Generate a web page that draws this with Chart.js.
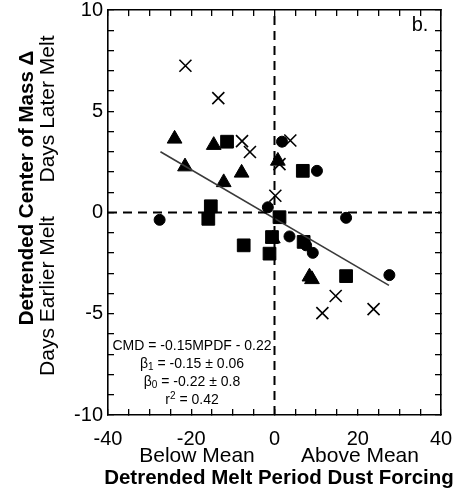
<!DOCTYPE html>
<html>
<head>
<meta charset="utf-8">
<script src="https://cdn.jsdelivr.net/npm/chart.js@4"></script>
<style>
  html, body { margin: 0; padding: 0; background: #fff; }
  canvas { display: block; }
</style>
</head>
<body>
<canvas id="dustChart" width="458" height="500"></canvas>
<script>
// values
const crossX = [-21.4, -13.5, -7.8, -5.9, 3.8, 1.2, 0.2, 14.7, 11.5, 23.8];
const crossY = [7.25, 5.65, 3.53, 2.99, 3.56, 2.39, 0.83, -4.12, -4.97, -4.77];
const triX = [-24.0, -14.6, -21.5, -7.9, -12.2, 0.8, -0.4, 8.4, 9.0];
const triY = [3.64, 3.33, 2.27, 1.96, 1.49, 2.55, -1.29, -3.17, -3.3];
const sqX = [-11.4, 6.8, -15.3, -15.9, 1.2, -7.4, -0.6, -1.2, 7.0, 17.2];
const sqY = [3.5, 2.06, 0.31, -0.31, -0.23, -1.62, -1.21, -2.03, -1.45, -3.14];
const circX = [1.8, 10.2, -1.6, -27.6, 17.2, 3.6, 7.6, 9.2, 27.6];
const circY = [3.5, 2.06, 0.26, -0.36, -0.26, -1.18, -1.62, -1.99, -3.09];
const fitX = [-27.4, 27.5];
const fitY = [3.0, -3.6];
const xTicks = [-40, -20, 0, 20, 40];
const yTicks = [-10, -5, 0, 5, 10];
const statLines = ['CMD = -0.15MPDF - 0.22', 'β|1| = -0.15 ± 0.06', 'β|0| = -0.22 ± 0.8', 'r^2^ = 0.42'];

// minor tick marks: every 5 on x, every 1 on y
const xMarks = [];
for (let v = -40; v <= 40; v += 5) xMarks.push(v);
const yMarks = [];
for (let v = -10; v <= 10; v += 1) yMarks.push(v);

const FONT = '"Liberation Sans", Arial, Helvetica, sans-serif';
const pts = (xs, ys) => xs.map((x, i) => ({ x, y: ys[i] }));

function markerSet(data, style, radius) {
  return {
    type: 'scatter',
    data,
    pointStyle: style,
    pointRadius: radius,
    pointBackgroundColor: '#000',
    pointBorderColor: '#000',
    pointBorderWidth: style === 'crossRot' ? 1.6 : 1,
    showLine: false
  };
}

function dashed(data) {
  return {
    type: 'line',
    data,
    borderColor: '#000',
    borderWidth: 2,
    borderDash: [9, 6],
    pointRadius: 0,
    fill: false
  };
}

// one line of text, |x| is subscript and ^x^ superscript
function richText(ctx, str, cx, cy, size) {
  const parts = [];
  const re = /(\|[^|]+\||\^[^^]+\^)/g;
  let last = 0, m;
  while ((m = re.exec(str)) !== null) {
    if (m.index > last) parts.push({ t: str.slice(last, m.index), k: 'n' });
    parts.push({ t: m[0].slice(1, -1), k: m[0][0] === '|' ? 'sub' : 'sup' });
    last = re.lastIndex;
  }
  if (last < str.length) parts.push({ t: str.slice(last), k: 'n' });
  const small = Math.round(size * 0.7);
  let total = 0;
  for (const p of parts) {
    ctx.font = (p.k === 'n' ? size : small) + 'px ' + FONT;
    p.w = ctx.measureText(p.t).width;
    total += p.w;
  }
  let x = cx - total / 2;
  ctx.textAlign = 'left';
  ctx.textBaseline = 'middle';
  for (const p of parts) {
    ctx.font = (p.k === 'n' ? size : small) + 'px ' + FONT;
    const dy = p.k === 'sub' ? size * 0.25 : p.k === 'sup' ? -size * 0.3 : 0;
    ctx.fillText(p.t, x, cy + dy);
    x += p.w;
  }
}

const decor = {
  id: 'decor',
  afterDraw(chart) {
    const ctx = chart.ctx;
    ctx.save();
    ctx.fillStyle = '#000';
    ctx.textAlign = 'center';
    ctx.textBaseline = 'middle';
    ctx.font = '20px ' + FONT;
    ctx.fillText('b.', 420, 25);

    // regression stats
    const sy = [346, 364, 382, 400];
    statLines.forEach((s, i) => richText(ctx, s, 192, sy[i], 14));

    // x axis titles
    ctx.textAlign = 'center';
    ctx.textBaseline = 'middle';
    ctx.font = '21px ' + FONT;
    ctx.fillText('Below Mean', 197, 456);
    ctx.fillText('Above Mean', 360, 456);
    ctx.font = 'bold 20.5px ' + FONT;
    ctx.fillText('Detrended Melt Period Dust Forcing', 279, 478);

    // y axis titles
    ctx.save();
    ctx.translate(27, 188);
    ctx.rotate(-Math.PI / 2);
    ctx.font = 'bold 20.5px ' + FONT;
    ctx.fillText('Detrended Center of Mass Δ', 0, 0);
    ctx.restore();
    ctx.save();
    ctx.translate(48, 0);
    ctx.rotate(-Math.PI / 2);
    ctx.font = '21px ' + FONT;
    ctx.fillText('Days Later Melt', -109, 0);
    ctx.fillText('Days Earlier Melt', -296, 0);
    ctx.restore();
    ctx.restore();
  }
};

const frameGrid = { display: true, drawOnChartArea: false, drawTicks: true, tickLength: -6, color: '#000', lineWidth: 1.3 };
const frameBorder = { display: true, color: '#000', width: 1.6 };

new Chart(document.getElementById('dustChart'), {
  data: {
    datasets: [
      dashed([{ x: 0, y: -10 }, { x: 0, y: 10 }]),
      dashed([{ x: -40, y: 0 }, { x: 40, y: 0 }]),
      {
        type: 'line',
        data: pts(fitX, fitY),
        borderColor: '#3a3a3a',
        borderWidth: 1.6,
        pointRadius: 0,
        fill: false
      },
      markerSet(pts(crossX, crossY), 'crossRot', 8.5),
      markerSet(pts(triX, triY), 'triangle', 8.5),
      markerSet(pts(sqX, sqY), 'rect', 9),
      markerSet(pts(circX, circY), 'circle', 5.5)
    ]
  },
  options: {
    responsive: false,
    animation: false,
    layout: { padding: { top: 9, right: 17, left: 0, bottom: 0 } },
    plugins: { legend: { display: false }, tooltip: { enabled: false } },
    scales: {
      x: {
        type: 'linear',
        position: 'bottom',
        min: -40, max: 40,
        afterBuildTicks: s => { s.ticks = xMarks.map(v => ({ value: v })); },
        afterFit: s => { s.height = 85; s.paddingLeft = 0; s.paddingRight = 0; },
        grid: frameGrid,
        border: frameBorder,
        ticks: {
          color: '#000', font: { family: FONT, size: 20 }, padding: 18, maxRotation: 0, autoSkip: false,
          callback: v => (xTicks.includes(v) ? String(v) : '')
        }
      },
      x2: {
        type: 'linear',
        position: 'top',
        min: -40, max: 40,
        afterBuildTicks: s => { s.ticks = xMarks.map(v => ({ value: v })); },
        afterFit: s => { s.height = 0; s.paddingLeft = 0; s.paddingRight = 0; },
        grid: frameGrid,
        border: frameBorder,
        ticks: { display: false, autoSkip: false }
      },
      y: {
        type: 'linear',
        position: 'left',
        min: -10, max: 10,
        afterBuildTicks: s => { s.ticks = yMarks.map(v => ({ value: v })); },
        afterFit: s => { s.width = 108; s.paddingTop = 0; s.paddingBottom = 0; },
        grid: frameGrid,
        border: frameBorder,
        ticks: {
          color: '#000', font: { family: FONT, size: 20 }, padding: 11, autoSkip: false,
          callback: v => (yTicks.includes(v) ? String(v) : '')
        }
      },
      y2: {
        type: 'linear',
        position: 'right',
        min: -10, max: 10,
        afterBuildTicks: s => { s.ticks = yMarks.map(v => ({ value: v })); },
        afterFit: s => { s.width = 0; s.paddingTop = 0; s.paddingBottom = 0; },
        grid: frameGrid,
        border: frameBorder,
        ticks: { display: false, autoSkip: false }
      }
    }
  },
  plugins: [decor]
});
</script>
</body>
</html>
